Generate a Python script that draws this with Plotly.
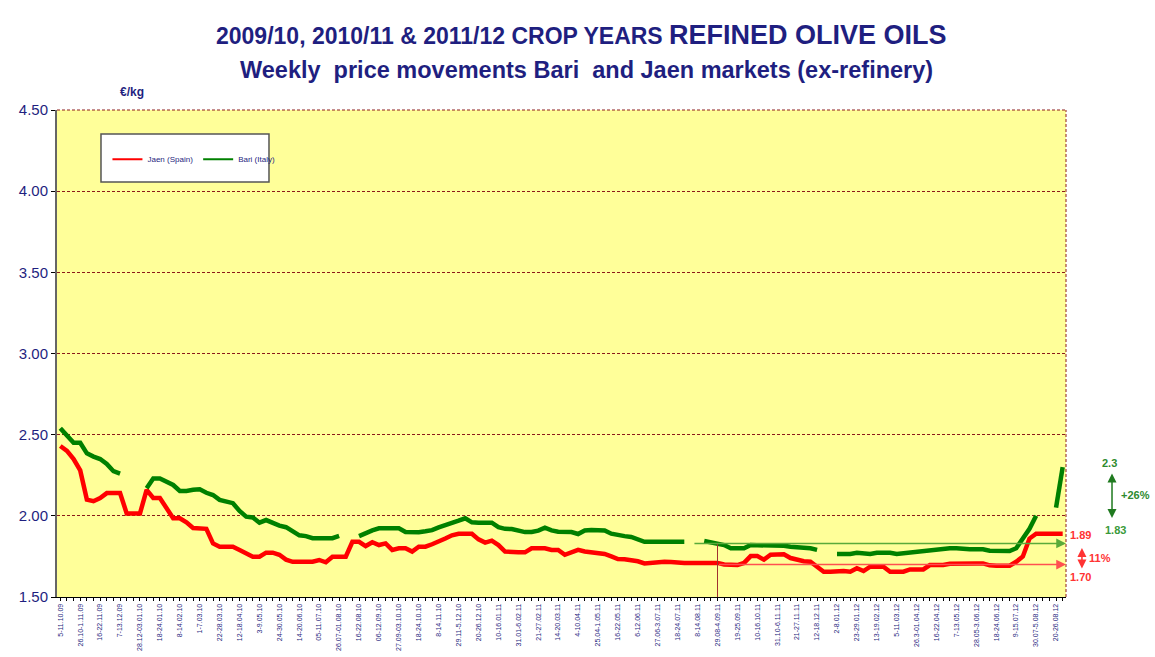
import plotly.graph_objects as go

# weekly prices, EUR/kg, 5-11.10.09 ... 27.08-02.09.12 (None = no quote)
jaen = [2.43, 2.40, 2.35, 2.28, 2.10, 2.09, 2.11, 2.14, 2.14, 2.14,
        2.015, 2.015, 2.015, 2.16, 2.11, 2.11, 2.05, 1.985, 1.985, 1.96,
        1.925, 1.925, 1.92, 1.83, 1.81, 1.81, 1.81, 1.79, 1.765, 1.748,
        1.748, 1.773, 1.773, 1.76, 1.73, 1.717, 1.717, 1.717, 1.717, 1.728,
        1.714, 1.748, 1.748, 1.748, 1.84, 1.84, 1.814, 1.837, 1.82, 1.83,
        1.79, 1.80, 1.80, 1.78, 1.81, 1.81, 1.825, 1.84, 1.86, 1.88,
        1.89, 1.89, 1.89, 1.855, 1.835, 1.847, 1.82, 1.78, 1.775, 1.775,
        1.775, 1.80, 1.80, 1.80, 1.79, 1.79, 1.76, 1.775, 1.79, 1.78,
        1.775, 1.765, 1.765, 1.75, 1.734, 1.732, 1.727, 1.72, 1.707, 1.712,
        1.717, 1.717, 1.715, 1.71, 1.71, 1.71, 1.71, 1.71, 1.71, 1.71,
        1.70, 1.697, 1.697, 1.71, 1.752, 1.752, 1.73, 1.76, 1.763, 1.763,
        1.74, 1.728, 1.72, 1.717, 1.69, 1.656, 1.656, 1.66, 1.66, 1.656,
        1.677, 1.66, 1.687, 1.687, 1.687, 1.656, 1.656, 1.656, 1.67, 1.67,
        1.67, 1.697, 1.697, 1.697, 1.705, 1.707, 1.707, 1.707, 1.707, 1.707,
        1.695, 1.693, 1.693, 1.693, 1.717, 1.75, 1.86, 1.89, 1.89, 1.89,
        1.89, 1.89]

bari = [2.54, 2.49, 2.45, 2.45, 2.385, 2.365, 2.35, 2.32, 2.275, 2.26,
        None, None, None, 2.17, 2.23, 2.23, 2.21, 2.19, 2.153, 2.153,
        2.16, 2.163, 2.142, 2.128, 2.098, 2.085, 2.078, 2.03, 1.995, 1.99,
        1.958, 1.974, 1.955, 1.94, 1.93, 1.905, 1.88, 1.875, 1.862, 1.862,
        1.862, 1.862, 1.876, None, None, 1.875, 1.895, 1.91, 1.923, 1.923,
        1.923, 1.923, 1.90, 1.899, 1.899, 1.905, 1.912, 1.929, 1.945, 1.958,
        1.97, 1.985, 1.96, 1.958, 1.958, 1.958, 1.93, 1.92, 1.919, 1.91,
        1.90, 1.90, 1.909, 1.927, 1.91, 1.902, 1.902, 1.90, 1.888, 1.91,
        1.913, 1.913, 1.91, 1.89, 1.88, 1.875, 1.87, 1.855, 1.84, 1.84,
        1.84, 1.84, 1.84, 1.84, 1.84, None, None, 1.845, 1.835, 1.83,
        1.82, 1.80, 1.80, 1.80, 1.82, 1.82, 1.82, 1.82, 1.82, 1.815,
        1.81, 1.81, 1.804, 1.80, 1.79, None, None, 1.765, 1.765, 1.765,
        1.772, 1.768, 1.765, 1.773, 1.773, 1.773, 1.765, 1.77, 1.773, 1.78,
        1.783, 1.785, 1.792, 1.80, 1.80, 1.80, 1.794, 1.794, 1.794, 1.794,
        1.785, 1.783, 1.783, 1.783, 1.80, 1.855, 1.92, 2.00, None, None,
        2.05, 2.30]

week_labels = ["5-11.10.09", "26.10-1.11.09", "16-22.11.09", "7-13.12.09", "28.12-03.01.10",
               "18-24.01.10", "8-14.02.10", "1-7.03.10", "22-28.03.10", "12-18.04.10",
               "3-9.05.10", "24-30.05.10", "14-20.06.10", "05-11.07.10", "26.07-01.08.10",
               "16-22.08.10", "06-12.09.10", "27.09-03.10.10", "18-24.10.10", "8-14.11.10",
               "29.11-5.12.10", "20-26.12.10", "10-16.01.11", "31.01-6.02.11", "21-27.02.11",
               "14-20.03.11", "4-10.04.11", "25.04-1.05.11", "16-22.05.11", "6-12.06.11",
               "27.06-3.07.11", "18-24.07.11", "8-14.08.11", "29.08-4.09.11", "19-25.09.11",
               "10-16.10.11", "31.10-6.11.11", "21-27.11.11", "12-18.12.11", "2-8.01.12",
               "23-29.01.12", "13-19.02.12", "5-11.03.12", "26.3-01.04.12", "16-22.04.12",
               "7-13.05.12", "28.05-3.06.12", "18-24.06.12", "9-15.07.12", "30.07-5.08.12",
               "20-26.08.12"]

weeks = list(range(len(jaen)))
label_weeks = weeks[::3][:len(week_labels)]

# reference levels marked on the right
jaen_low, jaen_high = 1.70, 1.89
bari_low, bari_high = 1.83, 2.30
ref_week = 99          # 29.08-4.09.11
bari_arrow_from = 95.3

NAVY = "#1f1f80"
FONT = "Liberation Sans, Arial, sans-serif"
GRID = "#8b1a1a"
RED_TXT = "#ff3333"
GREEN_TXT = "#2e8b2e"

fig = go.Figure()
fig.add_trace(go.Scatter(x=weeks, y=jaen, mode="lines", showlegend=False,
                         line=dict(color="#ff0000", width=4.5)))
fig.add_trace(go.Scatter(x=weeks, y=bari, mode="lines", showlegend=False,
                         line=dict(color="#008000", width=4.5)))
# thin legend samples
fig.add_trace(go.Scatter(x=[None], y=[None], mode="lines", name="Jaen (Spain)",
                         line=dict(color="#ff0000", width=2)))
fig.add_trace(go.Scatter(x=[None], y=[None], mode="lines", name="Bari (Italy)",
                         line=dict(color="#008000", width=2)))

shapes = [
    # legend box
    dict(type="rect", xref="paper", yref="paper", x0=0.0436, x1=0.2101, y0=0.852, y1=0.9507,
         fillcolor="white", line=dict(color="#555555", width=1.5), layer="below"),
    # dashed top / right border
    dict(type="line", xref="paper", yref="paper", x0=0, x1=1, y0=1, y1=1,
         line=dict(color=GRID, width=1, dash="3px,2px")),
    dict(type="line", xref="paper", yref="paper", x0=1, x1=1, y0=0, y1=1,
         line=dict(color=GRID, width=1, dash="3px,2px")),
    # start of reference period
    dict(type="line", xref="x", yref="y", x0=ref_week, x1=ref_week, y0=1.5, y1=bari_low,
         line=dict(color="#a03030", width=1)),
]

annotations = [
    dict(text="<b>2009/10, 2010/11 & 2011/12 CROP YEARS <span style='font-size:27px'>REFINED OLIVE OILS</span></b>",
         xref="paper", yref="paper", x=0.52, y=1.0, yshift=75, showarrow=False,
         font=dict(family=FONT, size=23, color=NAVY), xanchor="center", yanchor="middle"),
    dict(text="<b>Weekly  price movements Bari  and Jaen markets (ex-refinery)</b>",
         xref="paper", yref="paper", x=0.525, y=1.0, yshift=40, showarrow=False,
         font=dict(family=FONT, size=23.5, color=NAVY), xanchor="center", yanchor="middle"),
    dict(text="<b>€/kg</b>", xref="paper", yref="paper", x=0.06, y=1.0, yshift=18,
         showarrow=False, font=dict(family=FONT, size=12, color=NAVY), yanchor="middle",
         xanchor="left"),
    # horizontal reference arrows
    dict(x=151.5, y=bari_low, ax=bari_arrow_from, ay=bari_low, xref="x", yref="y",
         axref="x", ayref="y", text="", showarrow=True, arrowhead=2, arrowsize=1.3,
         arrowwidth=1.5, arrowcolor="#5aaa3a"),
    dict(x=151.5, y=jaen_low, ax=ref_week, ay=jaen_low, xref="x", yref="y",
         axref="x", ayref="y", text="", showarrow=True, arrowhead=2, arrowsize=1.3,
         arrowwidth=1.5, arrowcolor="#ff5050"),
    # red % change
    dict(text="<b>%.2f</b>" % jaen_high, xref="paper", yref="y", x=1.002, y=1.882, showarrow=False,
         xanchor="left", font=dict(family=FONT, size=11, color=RED_TXT)),
    dict(text="<b>%.2f</b>" % jaen_low, xref="paper", yref="y", x=1.002, y=1.623, showarrow=False,
         xanchor="left", font=dict(family=FONT, size=11, color=RED_TXT)),
    dict(text="<b>11%</b>", xref="paper", yref="y", x=1.0208, y=1.74, showarrow=False,
         xanchor="left", font=dict(family=FONT, size=11, color=RED_TXT)),
    dict(x=1.0158, y=1.676, xref="paper", yref="y", ax=0, ay=-22, text="", showarrow=True,
         arrowhead=2, arrowside="end+start", arrowsize=1.2, arrowwidth=1.5, arrowcolor=RED_TXT),
    # green % change
    dict(text="<b>2.3</b>", xref="paper", yref="y", x=1.0436, y=2.325, showarrow=False,
         xanchor="center", font=dict(family=FONT, size=11, color=GREEN_TXT)),
    dict(text="<b>%.2f</b>" % bari_low, xref="paper", yref="y", x=1.0486, y=1.913, showarrow=False,
         xanchor="center", font=dict(family=FONT, size=11, color="#3a9a3a")),
    dict(text="<b>+26%</b>", xref="paper", yref="y", x=1.0525, y=2.128, showarrow=False,
         xanchor="left", font=dict(family=FONT, size=11, color=GREEN_TXT)),
    dict(x=1.0456, y=1.987, xref="paper", yref="y", ax=0, ay=-46, text="", showarrow=True,
         arrowhead=2, arrowside="end+start", arrowsize=1.2, arrowwidth=1.5, arrowcolor="#1f7a1f"),
]

fig.update_layout(
    width=1155, height=657,
    margin=dict(l=57, r=89, t=110, b=60),
    paper_bgcolor="white", plot_bgcolor="#ffff99",
    font=dict(family=FONT, color=NAVY),
    shapes=shapes, annotations=annotations,
    legend=dict(orientation="h", x=0.05, y=0.899, xanchor="left", yanchor="middle",
                bgcolor="rgba(0,0,0,0)", font=dict(size=8, color=NAVY), itemwidth=30),
)
fig.update_xaxes(range=[-0.5, 151.5], tickmode="array", tickvals=label_weeks, ticktext=week_labels,
                 tickangle=-90, tickfont=dict(size=7, color=NAVY), showgrid=False, zeroline=False,
                 showline=True, linecolor="black", linewidth=1, ticks="outside", ticklen=3,
                 tickcolor="black", automargin=False,
                 minor=dict(dtick=1, ticks="outside", ticklen=3, tickcolor="black"))
fig.update_yaxes(range=[1.5, 4.5], dtick=0.5, tickformat=".2f", tickfont=dict(size=15, color=NAVY),
                 showgrid=True, gridcolor=GRID, griddash="3px,2px", gridwidth=1, zeroline=False,
                 showline=True, linecolor="#666666", linewidth=2, ticks="outside", ticklen=4,
                 tickcolor="black", automargin=False)

fig.write_html("out.html", config={"displayModeBar": False},
               post_script="document.body.style.margin='0';")
